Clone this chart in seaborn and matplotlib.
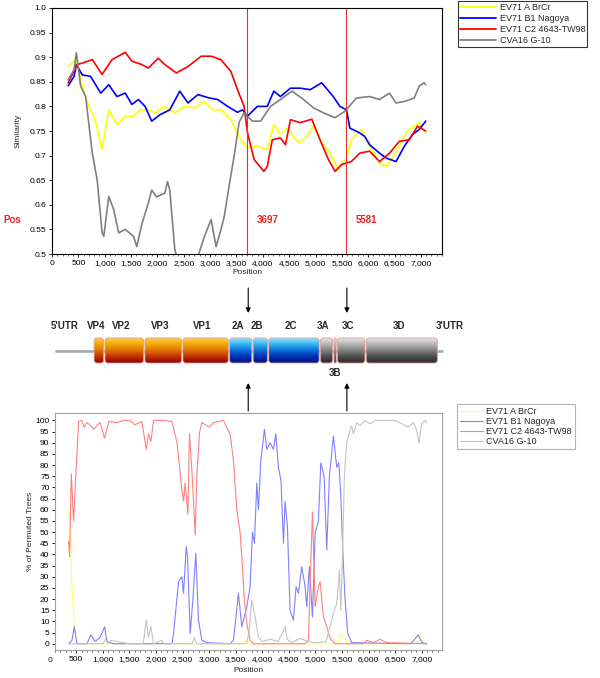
import numpy as np
import matplotlib
matplotlib.use("Agg")
import matplotlib.pyplot as plt
import seaborn as sns
from matplotlib.patches import FancyBboxPatch
from matplotlib.colors import LinearSegmentedColormap
from matplotlib.ticker import MultipleLocator, FuncFormatter
import matplotlib.transforms as mtransforms

strains = ["EV71 A BrCr", "EV71 B1 Nagoya", "EV71 C2 4643-TW98", "CVA16 G-10"]
breakpoints = [3697, 5581]

# similarity plot (position, similarity)
sim_pos_a = [306, 419, 481, 575, 700, 826, 951, 1077, 1233, 1390, 1546, 1672, 1828, 1953, 2142,
             2330, 2518, 2705, 2893, 3050, 3207, 3395, 3520, 3708, 3896, 4084, 4209, 4335, 4460,
             4680, 4836, 4962, 5118, 5275, 5432, 5588, 5682, 5870, 6027, 6215, 6340, 6497, 6748,
             6967, 7092]
sim_a = [0.881, 0.892, 0.888, 0.841, 0.800, 0.770, 0.712, 0.793, 0.763, 0.780, 0.780, 0.793, 0.793,
         0.787, 0.800, 0.787, 0.800, 0.797, 0.810, 0.793, 0.793, 0.773, 0.743, 0.715, 0.720, 0.712,
         0.763, 0.743, 0.756, 0.726, 0.739, 0.760, 0.726, 0.705, 0.671, 0.695, 0.732, 0.753, 0.719,
         0.685, 0.678, 0.702, 0.750, 0.767, 0.746]

sim_pos_b = [306, 419, 462, 575, 732, 924, 1077, 1233, 1390, 1515, 1640, 1766, 1891, 2048, 2236,
             2424, 2580, 2768, 2987, 3144, 3332, 3520, 3614, 3708, 3896, 4084, 4209, 4335, 4523,
             4711, 4899, 5118, 5337, 5463, 5588, 5651, 5839, 5933, 6027, 6215, 6340, 6528, 6685,
             6842, 6967, 7092]
sim_b = [0.842, 0.861, 0.885, 0.864, 0.861, 0.827, 0.844, 0.820, 0.827, 0.804, 0.814, 0.800, 0.770,
         0.783, 0.793, 0.831, 0.807, 0.824, 0.817, 0.814, 0.800, 0.788, 0.793, 0.780, 0.800, 0.800,
         0.831, 0.820, 0.837, 0.837, 0.834, 0.848, 0.820, 0.800, 0.793, 0.756, 0.746, 0.739, 0.722,
         0.705, 0.695, 0.688, 0.719, 0.743, 0.753, 0.770]

sim_pos_c = [306, 480, 575, 765, 950, 1140, 1390, 1515, 1705, 1830, 2015, 2140, 2360, 2580, 2830,
             3020, 3205, 3395, 3520, 3645, 3710, 3835, 4020, 4085, 4180, 4335, 4430, 4525, 4710,
             4930, 5085, 5245, 5370, 5495, 5680, 5840, 6025, 6215, 6405, 6590, 6780, 6935, 7090]
sim_c = [0.848, 0.885, 0.888, 0.895, 0.865, 0.895, 0.910, 0.892, 0.885, 0.878, 0.898, 0.885, 0.868,
         0.881, 0.902, 0.902, 0.895, 0.871, 0.834, 0.800, 0.746, 0.692, 0.668, 0.678, 0.732, 0.736,
         0.722, 0.773, 0.767, 0.774, 0.732, 0.692, 0.668, 0.682, 0.688, 0.705, 0.709, 0.688, 0.705,
         0.729, 0.732, 0.760, 0.750]

sim_pos_d = [306, 419, 462, 544, 638, 763, 857, 951, 983, 1077, 1171, 1265, 1390, 1547, 1609, 1703,
             1829, 1891, 1985, 2141, 2192, 2235, 2329, 2450, 2650, 2799, 2893, 3019, 3113, 3207,
             3270, 3363, 3457, 3551, 3645, 3802, 3958, 4147, 4335, 4554, 4774, 4962, 5150, 5369,
             5557, 5776, 6027, 6215, 6403, 6528, 6685, 6873, 6967, 7060, 7092]
sim_d = [0.854, 0.875, 0.909, 0.841, 0.820, 0.706, 0.651, 0.543, 0.536, 0.617, 0.590, 0.543, 0.550,
         0.536, 0.515, 0.560, 0.604, 0.630, 0.616, 0.624, 0.647, 0.630, 0.510, 0.460, 0.460, 0.505,
         0.536, 0.570, 0.515, 0.550, 0.577, 0.640, 0.700, 0.768, 0.787, 0.770, 0.770, 0.800, 0.814,
         0.831, 0.814, 0.797, 0.787, 0.777, 0.790, 0.817, 0.820, 0.814, 0.827, 0.807, 0.810, 0.817,
         0.841, 0.848, 0.844]

# bootscan (position, % of permuted trees)
boot_pos_a = [356, 388, 419, 462, 513, 3650, 3700, 3750, 5420, 5460, 5500, 5557, 5600, 6800, 6872,
              6966, 7029, 7092]
boot_a = [60, 52, 25.6, 7.6, 0, 0, 1.5, 0, 0, 4.6, 3, 3, 0, 0, 2.4, 4, 0, 0]

boot_pos_b = [356, 419, 462, 513, 700, 776, 857, 951, 1033, 1077, 1202, 2299, 2330, 2424, 2486,
              2518, 2568, 2593, 2643, 2693, 2749, 2799, 2862, 2956, 3395, 3457, 3551, 3614, 3708,
              3770, 3814, 3852, 3896, 3927, 3971, 4040, 4084, 4147, 4209, 4253, 4303, 4353, 4397,
              4428, 4472, 4522, 4585, 4635, 4679, 4742, 4805, 4836, 4886, 4943, 4993, 5055, 5100,
              5162, 5212, 5262, 5337, 5400, 5438, 5475, 5513, 5557, 5607, 5682, 6780, 6841, 6935,
              6998, 7092]
boot_b = [0, 1.6, 7.6, 0, 0, 4, 1, 3, 7.6, 1, 0, 0, 4.6, 27.8, 30, 22.6, 43.5, 39, 4.6, 19.6, 40.5,
          10.6, 1.6, 0.5, 0, 1.6, 22.6, 7.6, 16.6, 25.6, 50, 45, 72, 60, 82, 96, 87, 90, 87, 94, 79,
          72.6, 45, 63.7, 52.5, 15, 10.6, 25.6, 22.6, 34.5, 25.6, 16.6, 34.5, 12, 49.5, 54.7, 81,
          75, 42, 75, 93, 79, 81, 67, 42, 19.6, 4.6, 0.5, 0, 1.3, 4, 0.5, 0]

boot_pos_c = [356, 375, 406, 450, 500, 545, 600, 650, 700, 760, 825, 900, 950, 1033, 1110, 1265,
              1400, 1515, 1600, 1735, 1816, 1860, 1904, 1954, 2140, 2300, 2395, 2486, 2518, 2549,
              2599, 2630, 2674, 2706, 2737, 2768, 2818, 2862, 3000, 3080, 3270, 3395, 3457, 3520,
              3583, 3614, 3658, 3708, 3771, 3833, 4800, 4868, 4899, 4943, 4993, 5055, 5087, 5150,
              5212, 5275, 5369, 5900, 5965, 6090, 6215, 6340, 7092]
boot_c = [46, 39, 76, 55, 79, 99.5, 100, 97, 99, 98, 96, 98, 99, 92, 99.5, 99, 100, 100, 98, 99.5,
          87, 94, 90.6, 100, 100, 99.5, 90, 69, 64, 72, 58, 94, 78, 63.5, 48.7, 75, 94.5, 99, 97,
          99, 100, 93.8, 82, 60, 49.6, 39, 21, 9, 1.5, 0, 0, 1.6, 27, 59, 16.6, 25.6, 27.8, 12, 7.6,
          2.4, 0, 0, 1.5, 0.5, 2, 0.5, 0]

boot_pos_d = [356, 1000, 1050, 1100, 1150, 1500, 1760, 1816, 1860, 1904, 1954, 2100, 2150, 2680,
              2720, 2760, 3700, 3750, 3802, 3865, 3927, 4000, 4150, 4300, 4429, 4470, 4550, 4710,
              4868, 5000, 5200, 5337, 5400, 5450, 5476, 5506, 5544, 5588, 5637, 5682, 5713, 5776,
              5838, 5932, 6026, 6120, 6300, 6500, 6746, 6842, 6904, 6947, 6997, 7060, 7092]
boot_d = [0, 0, 2, 0, 1.5, 0, 0, 10.6, 3, 7.6, 0, 1.5, 0, 0, 2.8, 0, 0, 5, 19.6, 12, 3, 1, 2, 1,
          7.6, 2, 0.5, 2.4, 1, 0.5, 1, 13.6, 18, 33, 15, 37.5, 75, 90, 94.6, 97.6, 94, 99, 97.6, 100,
          98.4, 100, 100, 100, 97, 99, 95.6, 89.7, 98.5, 100, 99]

# genome map (nt)
gene_names = ["VP4", "VP2", "VP3", "VP1", "2A", "2B", "2C", "3A", "3B", "3C", "3D"]
gene_start = [743, 950, 1712, 2438, 3329, 3779, 4076, 5064, 5323, 5389, 5938]
gene_end = [949, 1711, 2437, 3328, 3778, 4075, 5063, 5322, 5388, 5937, 7320]
gene_group = ["P1", "P1", "P1", "P1", "P2", "P2", "P2", "P3", "P3", "P3", "P3"]
utr_names = ["5'UTR", "3'UTR"]
utr_label_pos = [200, 7540]
genome_len = 7410

sim_colors = ["#ffff00", "#0000ff", "#ff0000", "#808080"]
boot_colors = ["#ffff66", "#8080ff", "#ff8080", "#c4c4c4"]

sns.set_theme(style="white")
plt.rcParams["font.family"] = ["Liberation Sans", "DejaVu Sans"]

W, H = 600, 678
fig = plt.figure(figsize=(6, 6.78), dpi=100)


def px_box(l, t, r, b):
    return [l / W, 1 - b / H, (r - l) / W, (b - t) / H]


def sim_fmt(v, _):
    s = ("%.2f" % v).rstrip("0")
    return s + "0" if s.endswith(".") else s


comma_fmt = FuncFormatter(lambda v, _: "{:,.0f}".format(v))

# ---- top: similarity plot
ax1 = fig.add_axes(px_box(52, 8, 442, 254))
for name, xs, ys, c in zip(strains, [sim_pos_a, sim_pos_b, sim_pos_c, sim_pos_d],
                           [sim_a, sim_b, sim_c, sim_d], sim_colors):
    sns.lineplot(x=xs, y=ys, ax=ax1, color=c, linewidth=1.2, label=name,
                 estimator=None, sort=False)
for bp in breakpoints:
    ax1.axvline(bp, color="#e03030", lw=0.8)
    ax1.text(bp + 190, 0.57, str(bp), color="#ee2222", fontsize=7, fontweight="bold",
             va="center", ha="left")
ax1.set_xlim(0, 7400)
ax1.set_ylim(0.5, 1.0)
ax1.set_yticks(np.arange(0.5, 1.001, 0.05))
ax1.yaxis.set_major_formatter(FuncFormatter(sim_fmt))
ax1.xaxis.set_major_locator(MultipleLocator(500))
ax1.xaxis.set_minor_locator(MultipleLocator(100))
ax1.xaxis.set_major_formatter(comma_fmt)
ax1.set_xlabel("Position", fontsize=6, labelpad=2)
ax1.set_ylabel("Similarity", fontsize=6, labelpad=6)
for s in ax1.spines.values():
    s.set_color("black")
    s.set_linewidth(0.8)

h, l = ax1.get_legend_handles_labels()
if ax1.get_legend():
    ax1.get_legend().remove()
leg1 = ax1.legend(h, l, loc="upper left", bbox_to_anchor=(458 / W, 1 - 1 / H),
                  bbox_transform=fig.transFigure, fontsize=6.5, frameon=True, fancybox=False,
                  edgecolor="black", handlelength=4.0, handletextpad=0.35, labelspacing=0.22,
                  borderpad=0.25, borderaxespad=0)
leg1.get_frame().set_linewidth(0.8)
for ln in leg1.get_lines():
    ln.set_linewidth(1.3)

fig.text(3 / W, 1 - 220 / H, "Pos", color="#ee2222", fontsize=7, fontweight="bold",
         ha="left", va="center")

# ---- bottom: bootscan
ax2 = fig.add_axes(px_box(55, 413, 442, 650))
for name, xs, ys, c in zip(strains, [boot_pos_a, boot_pos_b, boot_pos_c, boot_pos_d],
                           [boot_a, boot_b, boot_c, boot_d], boot_colors):
    sns.lineplot(x=xs, y=ys, ax=ax2, color=c, linewidth=0.8, label=name,
                 estimator=None, sort=False)
ax2.set_xlim(100, 7380)
ax2.set_ylim(-2.8, 103.3)
ax2.set_yticks(np.arange(0, 101, 5))
ax2.xaxis.set_major_locator(MultipleLocator(500))
ax2.xaxis.set_minor_locator(MultipleLocator(100))
ax2.xaxis.set_major_formatter(comma_fmt)
ax2.set_xlabel("Position", fontsize=6, labelpad=3)
ax2.set_ylabel("% of Permuted Trees", fontsize=6, labelpad=1)
for s in ax2.spines.values():
    s.set_color("#a0a0a0")
    s.set_linewidth(0.8)
trans = mtransforms.blended_transform_factory(ax2.transData, ax2.transAxes)
ax2.text(0, -0.028, "0", transform=trans, fontsize=6, ha="center", va="top", clip_on=False)

h, l = ax2.get_legend_handles_labels()
if ax2.get_legend():
    ax2.get_legend().remove()
leg2 = ax2.legend(h, l, loc="upper left", bbox_to_anchor=(457 / W, 1 - 404 / H),
                  bbox_transform=fig.transFigure, fontsize=6.5, frameon=True, fancybox=False,
                  edgecolor="#a0a0a0", handlelength=2.6, handletextpad=0.35, labelspacing=0.12,
                  borderpad=0.3, borderaxespad=0)
leg2.get_frame().set_linewidth(0.8)

for ax in (ax1, ax2):
    ax.tick_params(axis="both", which="major", labelsize=6, length=2.5, width=0.6,
                   direction="out", bottom=True, left=True, pad=1.5, colors="black")
    ax.tick_params(axis="x", which="minor", length=1.5, width=0.5, bottom=True)

# ---- middle: genome map, x in nucleotides
axg = fig.add_axes(px_box(0, 280, W, 412))
axg.axis("off")
axg.set_facecolor("none")
bar_top, bar_h = 338, 25
axg.plot([1, genome_len], [bar_top + bar_h / 2] * 2, color="#a8a8a8", lw=1.9,
         solid_capstyle="butt", zorder=1)

cmaps = {
    "P1": LinearSegmentedColormap.from_list("p1", ["#f8d050", "#f0a800", "#e07000",
                                                   "#c03000", "#8c0000"]),
    "P2": LinearSegmentedColormap.from_list("p2", ["#90e4ff", "#30b4f0", "#0c6cd8",
                                                   "#0030b0", "#00128c"]),
    "P3": LinearSegmentedColormap.from_list("p3", ["#e6e6e6", "#b4b4b4", "#808080",
                                                   "#4c4c4c", "#2a2a2a"]),
}
grad = np.linspace(0, 1, 100).reshape(-1, 1)
for name, s, e, grp in zip(gene_names, gene_start, gene_end, gene_group):
    x0, x1 = s + 12, e - 12
    r = min(55, (x1 - x0) * 0.45)
    box = FancyBboxPatch((x0, bar_top), x1 - x0, bar_h,
                         boxstyle="round,pad=0,rounding_size=%g" % r,
                         mutation_aspect=3.0 / 55, facecolor="none",
                         edgecolor="#e49a9a", linewidth=0.6, zorder=3)
    axg.add_patch(box)
    im = axg.imshow(grad, extent=(x0, x1, bar_top + bar_h, bar_top), origin="upper",
                    aspect="auto", cmap=cmaps[grp], zorder=2, interpolation="bilinear")
    im.set_clip_path(box)
    cx = (s + e) / 2
    if name == "3B":
        axg.text(cx, 373, name, fontsize=7, fontweight="bold", ha="center", va="center")
    else:
        axg.text(cx - 60, 326, name, fontsize=7, fontweight="bold", ha="center", va="center")
for name, xp in zip(utr_names, utr_label_pos):
    axg.text(xp, 326, name, fontsize=7, fontweight="bold", ha="center", va="center")

for bp in breakpoints:
    axg.annotate("", xy=(bp, 313), xytext=(bp, 288),
                 arrowprops=dict(arrowstyle="-|>", color="black", lw=0.8,
                                 mutation_scale=7, shrinkA=0, shrinkB=0))
    axg.annotate("", xy=(bp, 383), xytext=(bp, 411),
                 arrowprops=dict(arrowstyle="-|>", color="black", lw=0.8,
                                 mutation_scale=7, shrinkA=0, shrinkB=0))

axg.set_xlim(-1042, 10413)
axg.set_ylim(412, 280)

fig.savefig("out.png", dpi=100)
